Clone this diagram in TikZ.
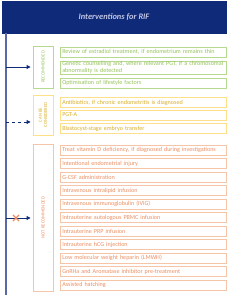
\documentclass[tikz,border=0pt]{standalone}
\usepackage{fontspec}
\setmainfont{Carlito}
\usetikzlibrary{arrows.meta,positioning,shapes.misc}

\definecolor{navy}{HTML}{0F2A78}
\definecolor{spine}{HTML}{5A68A8}
\definecolor{headtext}{HTML}{C3C7E6}
\definecolor{recline}{HTML}{B5D98F}
\definecolor{rectext}{HTML}{96C25C}
\definecolor{canline}{HTML}{FFE08A}
\definecolor{cantext}{HTML}{D9AE2B}
\definecolor{notline}{HTML}{F6C4A6}
\definecolor{nottext}{HTML}{EB8E62}

\newcommand{\itemsize}{\fontsize{6.1}{6.9}\selectfont\hyphenpenalty=10000\relax}

\begin{document}
\begin{tikzpicture}[
  x=1pt, y=-1pt,
  header/.style={fill=navy, draw=navy, minimum width=224pt, minimum height=32pt, inner sep=0pt,
    text=headtext, font=\fontsize{8.4}{9}\selectfont\bfseries\itshape},
  group/.style={draw, line width=0.9pt, minimum width=20pt, inner sep=0pt, anchor=center},
  grouplabel/.style={rotate=90, align=center, font=\fontsize{4.7}{5.3}\selectfont},
  item/.style={draw, line width=0.5pt, anchor=west, minimum width=166pt, text width=162pt,
    minimum height=10pt, inner xsep=2pt, inner ysep=0.6pt, align=left, font=\itemsize},
  rec/.style={item, draw=recline, text=rectext},
  can/.style={item, draw=canline, text=cantext},
  nrec/.style={item, draw=notline, text=nottext},
  branch/.style={-{Triangle[length=4pt,width=4pt]}, line width=0.9pt, draw=navy, shorten >=2pt}
]
\useasboundingbox (0,0) rectangle (230,295);

% title bar and spine
\node[header] (title) at (114,17) {Interventions for RIF};
\coordinate (spine top) at (6,33);
\coordinate (spine end) at (6,295);
\draw[spine, line width=1.4pt] (spine top) -- (spine end);

% group boxes
\node[group, draw=recline, minimum height=42pt] (recbox) at (43,67) {};
\node[grouplabel, text=rectext] at (recbox) {RECOMMENDED};
\node[group, draw=canline, minimum height=40pt] (canbox) at (43,115) {};
\node[grouplabel, text=cantext] at (canbox) {CAN BE\\CONSIDERED};
\node[group, draw=notline, minimum height=147pt] (notbox) at (43,217.5) {};
\node[grouplabel, text=nottext] at (notbox) {NOT RECOMMENDED};

% branches from the spine
\coordinate (b rec) at (6,67);
\coordinate (b can) at (6,122);
\coordinate (b not) at (6,218);
\draw[branch] (b rec) -- (b rec -| recbox.west);
\draw[branch, dashed] (b can) -- (b can -| canbox.west);
\draw[branch] (b not) -- (b not -| notbox.west);
\node[cross out, draw=nottext, line width=1.1pt, minimum size=5pt, inner sep=0pt] (veto) at (16,218) {};

% recommended
\node[rec] (r1) at (60,52) {Review of estradiol treatment, if endometrium remains thin};
\node[rec] (r2) at (60,67.5) {Genetic counselling and, where relevant PGT, if a chromosomal abnormality is detected};
\node[rec] (r3) at (60,83) {Optimisation of lifestyle factors};

% can be considered
\node[can] (c1) at (60,102.5) {Antibiotics, if chronic endometritis is diagnosed};
\node[can] (c2) at (60,115) {PGT-A};
\node[can] (c3) at (60,128.5) {Blastocyst-stage embryo transfer};

% not recommended
\node[nrec] (n1) at (60,150) {Treat vitamin D deficiency, if diagnosed during investigations};
\node[nrec] (n2) at (60,163.5) {Intentional endometrial injury};
\node[nrec] (n3) at (60,177) {G-CSF administration};
\node[nrec] (n4) at (60,190.5) {Intravenous intralipid infusion};
\node[nrec] (n5) at (60,204) {Intravenous immunoglobulin (IVIG)};
\node[nrec] (n6) at (60,217.5) {Intrauterine autologous PBMC infusion};
\node[nrec] (n7) at (60,231) {Intrauterine PRP infusion};
\node[nrec] (n8) at (60,244.5) {Intrauterine hCG injection};
\node[nrec] (n9) at (60,258) {Low molecular weight heparin (LMWH)};
\node[nrec] (n10) at (60,271.5) {GnRHa and Aromatase inhibitor pre-treatment};
\node[nrec] (n11) at (60,285) {Assisted hatching};

\end{tikzpicture}
\end{document}
